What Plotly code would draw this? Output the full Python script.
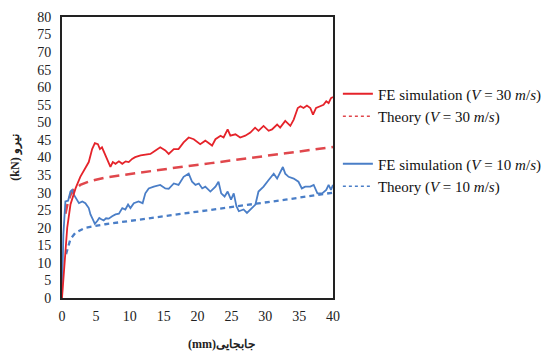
import plotly.graph_objects as go

# ---- data ----
fe30_x = [0, 0.1, 0.77, 1.25, 1.75, 2.0, 2.7, 3.0, 3.95, 4.45, 4.85, 5.3, 5.6, 5.9, 6.4, 6.9, 7.15, 7.5, 7.9, 8.4,
          8.9, 9.4, 9.85, 10.35, 10.8, 11.6, 12.3, 13.05, 13.8, 14.5, 15.25, 15.75, 16.5, 17.2, 17.95, 18.7, 19.45, 20.4, 21.15, 21.8,
          22.15, 22.65, 23.4, 23.85, 24.45, 24.85, 25.6, 26.3, 27.05, 27.8, 28.5, 29.0, 29.75, 30.5, 31.0, 31.75, 32.2, 32.95, 33.7, 34.2,
          34.8, 35.2, 35.65, 36.15, 36.65, 37.05, 37.5, 38.1, 38.6, 39.0, 39.35, 39.7, 40]
fe30_y = [0, 2.3, 20, 26.6, 29.5, 31.2, 34.5, 35.5, 38.7, 42.4, 44.1, 43.8, 42.4, 42.9, 40.6, 38.7, 37.3, 38.7, 38.2, 38.9,
          38.2, 38.9, 38.7, 39.6, 40.1, 40.6, 40.8, 41.0, 42.0, 42.9, 42.0, 41.0, 42.4, 42.4, 44.3, 45.7, 45.2, 43.8, 44.8, 43.8,
          43.4, 45.2, 46.2, 45.7, 48.0, 46.2, 46.6, 45.7, 46.2, 47.1, 48.5, 47.6, 49.0, 47.6, 48.0, 49.4, 48.5, 50.4, 49.0, 50.8,
          54.1, 54.6, 54.1, 54.8, 54.1, 52.2, 54.1, 54.6, 55.0, 56.0, 55.5, 56.9, 57.2]

fe10_x = [0, 0.2, 0.5, 0.9, 1.25, 1.5, 1.75, 2.1, 2.5, 3.0, 3.45, 3.95, 4.2, 4.55, 4.85, 5.2, 5.5, 5.8, 6.15, 6.5,
          6.9, 7.4, 7.9, 8.4, 8.9, 9.35, 9.75, 10.1, 10.6, 11.3, 11.9, 12.3, 12.8, 13.55, 14.5, 15.25, 15.75, 16.5, 17.2, 17.95,
          18.7, 19.2, 19.7, 20.2, 20.7, 21.15, 21.9, 22.65, 23.1, 23.5, 24.0, 24.45, 24.95, 25.35, 25.75, 26.1, 26.8, 27.3, 28.05, 28.55,
          29.0, 29.75, 30.5, 31.25, 31.75, 32.2, 32.6, 32.95, 33.45, 34.2, 34.9, 35.4, 35.9, 36.65, 37.15, 37.7, 38.4, 39.0, 39.35, 39.7, 40]
fe10_y = [0, 18, 27.5, 27.7, 30.3, 30.8, 29.4, 28.4, 27.0, 27.5, 27.0, 25.6, 23.8, 22.4, 21.1, 21.9, 22.8, 22.4, 22.1, 22.7,
          22.6, 23.3, 23.8, 24.0, 25.6, 25.2, 26.6, 25.6, 27.0, 27.5, 27.0, 29.8, 31.2, 31.7, 32.2, 31.2, 31.1, 32.6, 32.2, 34.5,
          35.4, 33.1, 32.2, 32.6, 31.2, 31.7, 30.3, 31.7, 33.1, 29.8, 28.9, 30.3, 28.0, 29.8, 26.1, 24.7, 25.2, 24.2, 25.6, 26.6,
          30.3, 31.7, 33.6, 35.4, 34.0, 35.9, 37.3, 35.4, 34.5, 34.0, 33.1, 31.2, 31.7, 31.7, 32.2, 29.8, 29.8, 30.8, 32.2, 30.8, 32.2]

th30_x = [0.5, 0.9, 1.3, 1.75, 2.7, 4.0, 6.4, 8.9, 13.0, 17.5, 22.0, 27.8, 33.0, 40.0]
th30_y = [24.0, 27.5, 29.5, 30.8, 32.2, 33.2, 34.3, 35.0, 36.0, 37.3, 38.4, 39.8, 41.2, 43.0]

th10_x = [0.6, 0.8, 1.25, 2.0, 3.45, 6.4, 9.85, 13.8, 20.0, 27.8, 33.0, 40.0]
th10_y = [12.5, 14.0, 16.8, 18.6, 20.0, 21.0, 21.9, 22.8, 24.5, 26.6, 28.0, 30.0]

names = ["FE simulation (<i>V</i> = 30 <i>m</i>/<i>s</i>)",
         "Theory (<i>V</i> = 30 <i>m</i>/<i>s</i>)",
         "FE simulation (<i>V</i> = 10 <i>m</i>/<i>s</i>)",
         "Theory (<i>V</i> = 10 <i>m</i>/<i>s</i>)"]

x_ticks = [0, 5, 10, 15, 20, 25, 30, 35, 40]
y_ticks = list(range(0, 81, 5))

RED = "#E5232A"
RED_T = "#E0474C"
BLUE = "#4A7EC7"

fig = go.Figure()
fig.add_trace(go.Scatter(x=th30_x, y=th30_y, mode="lines", showlegend=False,
                         line=dict(color=RED_T, width=2.5, dash="10px,6px")))
fig.add_trace(go.Scatter(x=th10_x, y=th10_y, mode="lines", showlegend=False,
                         line=dict(color=BLUE, width=2.3, dash="5px,4px")))
fig.add_trace(go.Scatter(x=fe10_x, y=fe10_y, mode="lines", showlegend=False,
                         line=dict(color=BLUE, width=1.8)))
fig.add_trace(go.Scatter(x=fe30_x, y=fe30_y, mode="lines", showlegend=False,
                         line=dict(color=RED, width=1.8)))

legend_styles = [(RED, "solid", 2, "g1"), (RED_T, "dot", 1.5, "g1"),
                 (BLUE, "solid", 2, "g2"), (BLUE, "dot", 1.5, "g2")]
for nm, (c, d, w, g) in zip(names, legend_styles):
    fig.add_trace(go.Scatter(x=[None], y=[None], mode="lines", name=nm, legendgroup=g,
                             line=dict(color=c, dash=d, width=w)))

FF = "Liberation Serif"

fig.update_layout(
    width=554, height=361,
    margin=dict(l=53.5, r=229, t=8.5, b=70.8, pad=0, autoexpand=False),
    paper_bgcolor="white", plot_bgcolor="white",
    font=dict(family=FF, size=14, color="#222"),
    legend=dict(x=1.018, y=0.785, xanchor="left", yanchor="top",
                font=dict(family=FF, size=15, color="#111"),
                traceorder="grouped", tracegroupgap=25,
                bgcolor="rgba(0,0,0,0)", itemwidth=30),
    xaxis=dict(range=[0, 40], tickvals=x_ticks, ticktext=[str(v) for v in x_ticks],
               showgrid=False, zeroline=False, showline=True, linecolor="#222", linewidth=2,
               mirror=True, ticks="", ticklabelstandoff=4, automargin=False,
               tickfont=dict(family=FF, size=14, color="#222")),
    yaxis=dict(range=[0, 80], tickvals=y_ticks, showgrid=False, zeroline=False,
               showline=True, linecolor="#222", linewidth=2, mirror=True, ticks="",
               ticklabelstandoff=6, automargin=False, ticklabeloverflow="allow",
               tickfont=dict(family=FF, size=14, color="#222"),
               title=dict(text="<b>(kN) نیرو</b>", font=dict(family=FF, size=12, color="#222"),
                          standoff=15)),
    annotations=[dict(text="<b>(mm)جابجایی</b>", x=0.587, y=-0.165, xref="paper", yref="paper",
                      xanchor="center", yanchor="middle", showarrow=False,
                      font=dict(family=FF, size=12, color="#222"))],
)

fig.write_html("out.html")
